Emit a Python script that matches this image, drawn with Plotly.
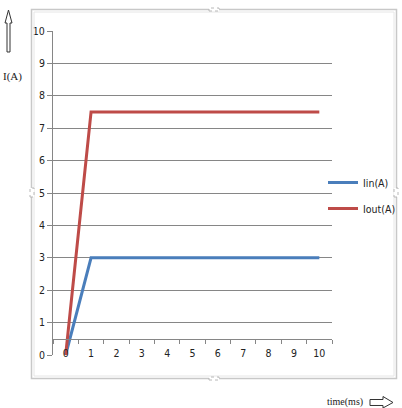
import plotly.graph_objects as go

# ---- data ----
time_ms = ["0", "1", "2", "3", "4", "5", "6", "7", "8", "9", "10"]
i_in = [0, 3, 3, 3, 3, 3, 3, 3, 3, 3, 3]
i_out = [0, 7.5, 7.5, 7.5, 7.5, 7.5, 7.5, 7.5, 7.5, 7.5, 7.5]
y_ticks = [0, 1, 2, 3, 4, 5, 6, 7, 8, 9, 10]

W, H = 402, 408
L, R, T, B = 53, 70, 31, 53
PW, PH = W - L - R, H - T - B

def px(x):
    return (x - L) / PW

def py(y):
    return (H - B - y) / PH

fig = go.Figure()
fig.add_trace(go.Scatter(x=time_ms, y=i_in, mode="lines", name="Iin(A)",
                         line=dict(color="#4A7EBB", width=3), legendgroup="a"))
fig.add_trace(go.Scatter(x=time_ms, y=i_out, mode="lines", name="Iout(A)",
                         line=dict(color="#BE4B48", width=3), legendgroup="b"))

font_ax = dict(family="Liberation Sans Narrow, Arial Narrow, DejaVu Sans Condensed, sans-serif",
               size=10.5, color="#222222")

fig.update_layout(
    width=W, height=H,
    margin=dict(l=L, r=R, t=T, b=B, autoexpand=False),
    paper_bgcolor="white", plot_bgcolor="white",
    font=font_ax,
    xaxis=dict(type="category", range=[-0.5, 10.5], anchor="free", position=0.05,
               showgrid=False, zeroline=False, showline=True, linecolor="#868686",
               linewidth=1, ticks="outside", ticklen=4, tickcolor="#868686",
               tickson="boundaries", ticklabelstandoff=5, tickfont=font_ax),
    yaxis=dict(range=[0, 10], tickvals=y_ticks, showgrid=True, gridcolor="#868686",
               gridwidth=1, zeroline=False, showline=True, linecolor="#868686",
               linewidth=1, ticks="outside", ticklen=5, tickcolor="#868686",
               tickfont=font_ax),
    legend=dict(x=px(323), y=py(168), xanchor="left", yanchor="top",
                bgcolor="rgba(0,0,0,0)", traceorder="grouped", tracegroupgap=7,
                font=font_ax, itemwidth=30),
    showlegend=True,
)

shapes = []
# chart frame
shapes.append(dict(type="rect", xref="paper", yref="paper",
                   x0=px(31.5), x1=px(396.5), y0=py(378.5), y1=py(9.5),
                   line=dict(color="#c8c8c8", width=1.5)))
shapes.append(dict(type="rect", xref="paper", yref="paper",
                   x0=px(34), x1=px(394), y0=py(376), y1=py(12),
                   line=dict(color="#e6e6e6", width=1)))
# frame handles
for (x0, y0, x1, y1) in [(209, 8, 219, 11), (209, 377, 219, 380), (30, 188, 34, 197), (394, 188, 398, 197)]:
    shapes.append(dict(type="rect", xref="paper", yref="paper",
                       x0=px(x0), x1=px(x1), y0=py(y1), y1=py(y0),
                       line=dict(color="#b8b8b8", width=1, dash="dot"),
                       fillcolor="white"))

# up arrow (hollow)
up = [(8.5, 10), (12, 23), (10, 23), (10, 52), (7, 52), (7, 23), (5, 23)]
path = "M" + " L".join(f"{px(a):.5f},{py(b):.5f}" for a, b in up) + " Z"
shapes.append(dict(type="path", xref="paper", yref="paper", path=path,
                   line=dict(color="#333333", width=1), fillcolor="white"))
# right arrow (hollow)
rt = [(370, 399.5), (383, 399.5), (383, 396.5), (393, 402.5), (383, 408), (383, 405.5), (370, 405.5)]
path = "M" + " L".join(f"{px(a):.5f},{py(b):.5f}" for a, b in rt) + " Z"
shapes.append(dict(type="path", xref="paper", yref="paper", path=path,
                   line=dict(color="#333333", width=1), fillcolor="white"))
fig.update_layout(shapes=shapes)

serif = dict(family="Liberation Serif, DejaVu Serif, serif", size=11, color="#222222")
fig.add_annotation(text="I(A)", xref="paper", yref="paper", x=px(12), y=py(77),
                   showarrow=False, font=serif, xanchor="center", yanchor="middle")
fig.add_annotation(text="time(ms)", xref="paper", yref="paper", x=px(365), y=py(402),
                   showarrow=False, font=dict(serif, size=10), xanchor="right", yanchor="middle")

fig.write_html("out.html")
